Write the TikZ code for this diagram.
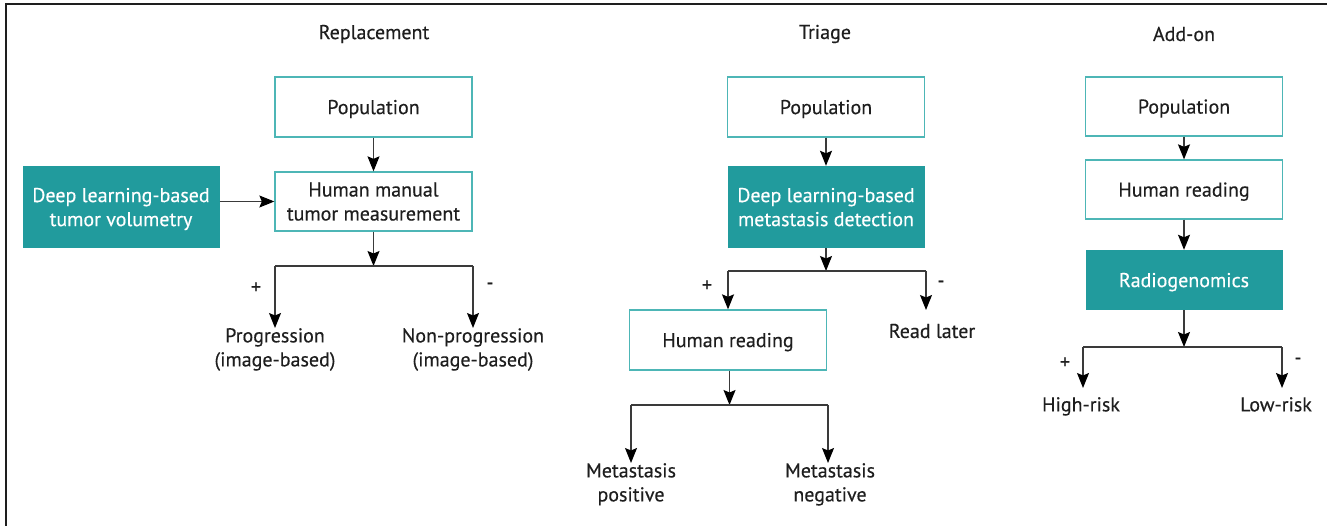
\documentclass[tikz,border=0pt]{standalone}
\usepackage{fontspec}
\setmainfont{PT Sans}[FakeBold=0.35]
\usetikzlibrary{arrows.meta}
\definecolor{tealfill}{HTML}{219B9D}
\definecolor{tealline}{HTML}{4DB6B6}
\definecolor{ink}{HTML}{1E1E1E}
\definecolor{conn}{HTML}{3A3A3A}
\tikzset{
  txt/.style={font=\fontsize{20}{24}\selectfont},
  wbox/.style={txt, draw=tealline, line width=1.3pt, fill=white, minimum width=197pt, minimum height=60pt, align=center, text=ink, inner sep=0pt, text depth=0pt},
  fbox/.style={txt, fill=tealfill, minimum width=197pt, minimum height=60pt, align=center, text=white, inner sep=0pt, text depth=0pt},
  leaf/.style={txt, align=center, text=ink, inner sep=0pt, anchor=north},
  sign/.style={txt, text=ink, inner sep=0pt},
  ttl/.style={txt, text=ink, inner sep=0pt},
  conline/.style={draw=conn, line width=1.2pt},
  arr/.style={conline, -{Stealth[length=15pt,width=12pt,inset=2.5pt,color=black]}},
}
\begin{document}
\begin{tikzpicture}[x=1pt,y=-1pt]
\useasboundingbox (0,0) rectangle (1327,526);
\draw[line width=1.5pt, draw=ink] (6,526) -- (6,4) -- (1327,4);

% ---------------- Replacement ----------------
\node[ttl] (t1) at (374,34) {Replacement};
\node[wbox] (p1) at (373.5,107) {Population};
\node[wbox, minimum height=59pt] (hm) at (373.5,201.5) {Human manual\\tumor measurement};
\node[fbox, minimum height=82pt] (dl1) at (121,207) {Deep learning-based\\tumor volumetry};
\coordinate (b1) at (373.5,266);
\coordinate (b1l) at (275,266);
\coordinate (b1r) at (473,266);
\node[leaf] (prog) at (275,328) {Progression\\(image-based)};
\node[leaf] (nprog) at (473,328) {Non-progression\\(image-based)};
\node[sign] (s1p) at (256,288) {+};
\node[sign] (s1m) at (490,286) {-};
\draw[arr] (p1) -- (hm);
\draw[arr] (dl1.east |- hm.west) -- (hm.west);
\draw[arr] (hm) -- (b1);
\draw[conline] (b1l) -- (b1r);
\draw[arr] (b1l) -- (prog.north);
\draw[arr] (b1r) -- (nprog.north);

% ---------------- Triage ----------------
\node[ttl] (t2) at (825,34) {Triage};
\node[wbox] (p2) at (826,107) {Population};
\node[fbox, minimum height=82pt] (dl2) at (826,207) {Deep learning-based\\metastasis detection};
\coordinate (b2) at (826,271);
\coordinate (b2l) at (728,271);
\coordinate (b2r) at (926,271);
\node[wbox] (hr2) at (728,340) {Human reading};
\coordinate (rlt) at (926,310);
\node[ttl] (rl) at (932,331) {Read later};
\node[sign] (s2p) at (707,286) {+};
\node[sign] (s2m) at (941,284) {-};
\draw[arr] (p2) -- (dl2);
\draw[arr] (dl2) -- (b2);
\draw[conline] (b2l) -- (b2r);
\draw[arr] (b2l) -- (hr2.north);
\draw[arr] (b2r) -- (rlt);
\coordinate (b3) at (729.5,405);
\coordinate (b3l) at (631,405);
\coordinate (b3r) at (828,405);
\node[leaf] (mpos) at (631,463) {Metastasis\\positive};
\node[leaf] (mneg) at (830,463) {Metastasis\\negative};
\draw[arr] (hr2.south -| b3) -- (b3);
\draw[conline] (b3l) -- (b3r);
\draw[arr] (b3l) -- (mpos.north -| b3l);
\draw[arr] (b3r) -- (mneg.north -| b3r);

% ---------------- Add-on ----------------
\node[ttl] (t3) at (1184,34) {Add-on};
\node[wbox, minimum height=59pt] (p3) at (1184,106.5) {Population};
\node[wbox, minimum height=59pt] (hr3) at (1184,189.5) {Human reading};
\node[fbox] (rg) at (1184,280) {Radiogenomics};
\coordinate (b4) at (1184,347);
\coordinate (b4l) at (1083,347);
\coordinate (b4r) at (1282,347);
\node[leaf] (hi) at (1081,397) {High-risk};
\node[leaf] (lo) at (1276,397) {Low-risk};
\coordinate (hit) at (1083,388);
\coordinate (lot) at (1282,388);
\node[sign] (s3p) at (1065,363) {+};
\node[sign] (s3m) at (1298,361) {-};
\draw[arr] (p3) -- (hr3);
\draw[arr] (hr3) -- (rg);
\draw[arr] (rg) -- (b4);
\draw[conline] (b4l) -- (b4r);
\draw[arr] (b4l) -- (hit);
\draw[arr] (b4r) -- (lot);
\end{tikzpicture}
\end{document}
